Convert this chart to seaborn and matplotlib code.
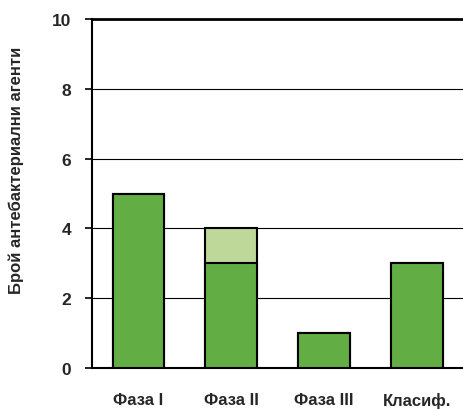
import matplotlib
matplotlib.use("Agg")
import matplotlib.pyplot as plt
import seaborn as sns
import pandas as pd

# Data
phases = ["Фаза I", "Фаза II", "Фаза III", "Класиф."]
base_counts = [5, 3, 1, 3]
extra_counts = [0, 1, 0, 0]
y_ticks = [0, 2, 4, 6, 8, 10]

sns.set_style("white")
plt.rcParams["font.family"] = ["Liberation Sans", "DejaVu Sans"]

df = pd.DataFrame({
    "phase": phases,
    "base": base_counts,
    "total": [b + e for b, e in zip(base_counts, extra_counts)],
})

fig = plt.figure(figsize=(4.63, 4.10), dpi=100)
ax = fig.add_axes([0.199, 0.10, 0.801, 0.851])

# Gridlines behind bars
for t in y_ticks[1:-1]:
    ax.axhline(t, color="#000000", lw=0.8, zorder=0)
ax.axhline(10, color="#000000", lw=2.0, zorder=0, clip_on=False)

sns.barplot(data=df, x="phase", y="total", color="#BDD899", width=0.56,
            edgecolor="black", linewidth=1.5, saturation=1, ax=ax, zorder=2)
sns.barplot(data=df, x="phase", y="base", color="#62AE45", width=0.56,
            edgecolor="black", linewidth=1.5, saturation=1, ax=ax, zorder=3)

ax.set_xlim(-0.5, 3.5)
ax.set_ylim(0, 10)
ax.set_yticks(y_ticks)
ax.set_yticklabels([str(t) for t in y_ticks], fontsize=12.5, fontweight="bold")

# x ticks at category boundaries, labels centred
ax.set_xticks([-0.5, 0.5, 1.5, 2.5], minor=False)
ax.set_xticklabels([])
ax.set_xticks(range(len(phases)), minor=True)
ax.set_xticklabels(phases, minor=True, fontsize=12, fontweight="bold")
ax.tick_params(axis="x", which="minor", length=0, pad=17)
ax.tick_params(axis="x", which="major", length=5, width=1.2, direction="out", color="black")
ax.tick_params(axis="y", length=5, width=1.2, direction="out", color="black", pad=10, left=True)

ax.set_xlabel("")
ax.set_ylabel("Брой антебактериални агенти", fontsize=12, fontweight="bold")
ax.yaxis.set_label_coords(-0.185, 0.57)

for side in ["top", "right"]:
    ax.spines[side].set_visible(False)
for side in ["left", "bottom"]:
    ax.spines[side].set_color("black")
    ax.spines[side].set_linewidth(1.5)

fig.savefig("out.png", dpi=100)
